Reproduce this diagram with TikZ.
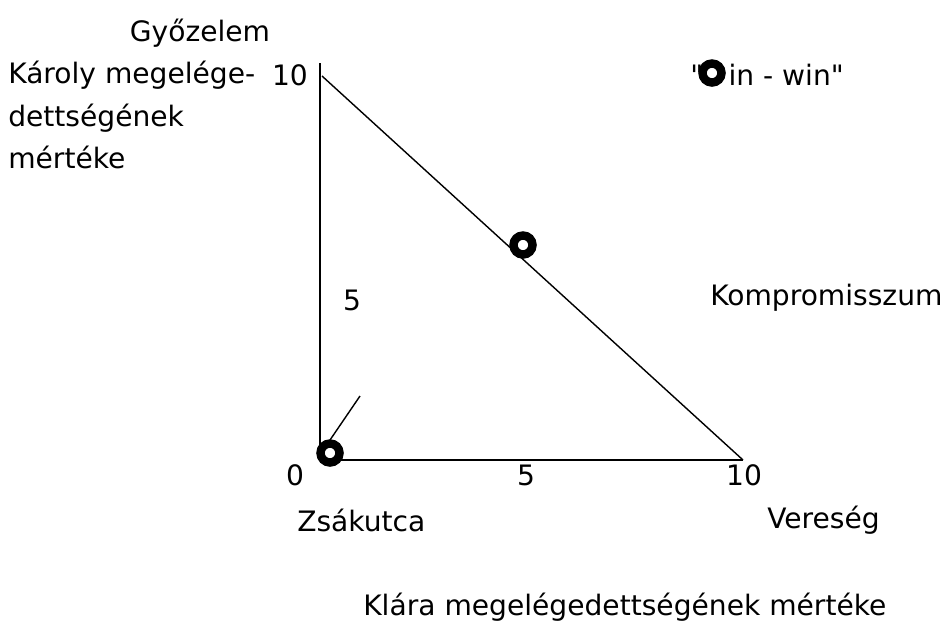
\documentclass[tikz,border=0pt]{standalone}
\usepackage{fontspec}
\newfontfamily\dejavu{DejaVu Sans}
\usepackage{tikz}
\usetikzlibrary{positioning}

\begin{document}
\begin{tikzpicture}[x=0.025cm,y=-0.025cm,
    every node/.style={font=\dejavu\fontsize{20}{30.2}\selectfont,inner sep=0pt},
    ring/.style={draw,line width=6pt,circle,minimum size=19*0.025cm}]
  \useasboundingbox (0,0) rectangle (945,627);
  % axes and the line of the possible deals
  \coordinate (O) at (320,460);
  \coordinate (ytop) at (320,63);
  \coordinate (xend) at (743,460);
  \coordinate (dtop) at (322,76);
  \draw[line width=1pt] (ytop) -- (O) -- (xend);
  \draw[line width=1pt] (dtop) -- (xend);
  \draw[line width=1pt] (330,440) coordinate (tick) -- (360,396) coordinate (tickend);
  % the three outcomes
  \node[ring] (dead) at (330,453) {};
  \node[ring] (comp) at (523,245) {};
  \node[ring] (win) at (712,73) {};
  % labels
  \node (gyoz) at (200,33) {Győzelem};
  \node[anchor=west,align=left] (karoly) at (8,115) {Károly megelége-\\dettségének\\mértéke};
  \node (y10) at (290,75) {10};
  \node (y5) at (352,300) {5};
  \node[anchor=west] (kompr) at (710,298) {Kompromisszum};
  \node[anchor=west] (winwin) at (690,75) {"\hspace{0.9em}in - win"};
  \node (x0) at (295,475) {0};
  \node (x5) at (526,475) {5};
  \node (x10) at (744,475) {10};
  \node[anchor=west] (zsak) at (297,520) {Zsákutca};
  \node[anchor=west] (ver) at (767,520) {Vereség};
  \node[anchor=west] (klara) at (363,607) {Klára megelégedettségének mértéke};
\end{tikzpicture}
\end{document}
